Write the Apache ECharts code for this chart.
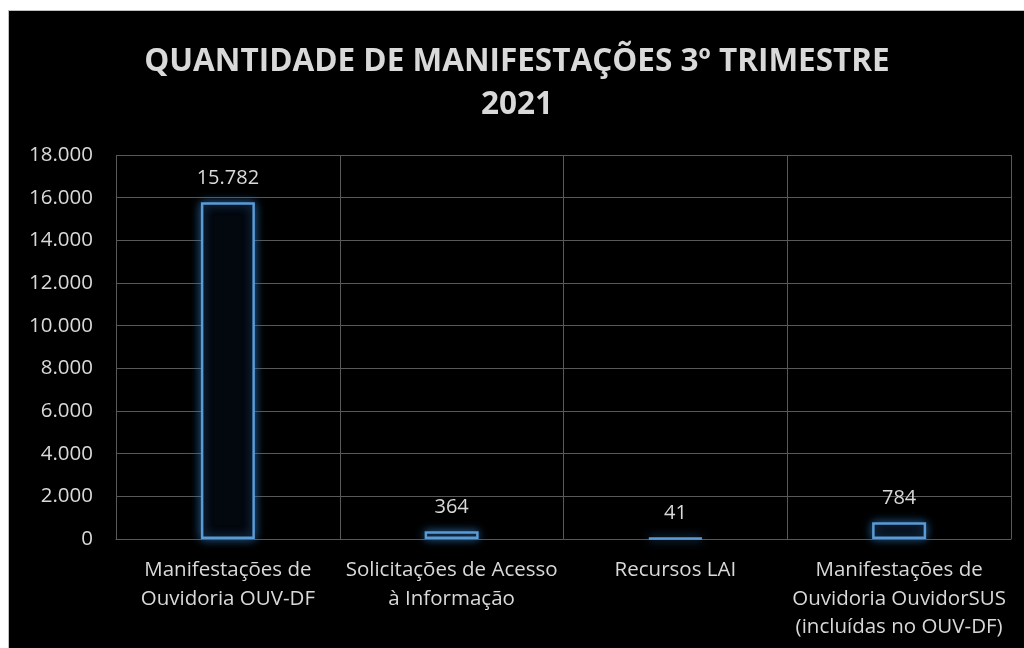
<!DOCTYPE html>
<html>
<head>
<meta charset="utf-8">
<script src="https://cdn.jsdelivr.net/npm/echarts@6/dist/echarts.min.js"></script>
<style>
html,body{margin:0;padding:0;background:#fff;width:1024px;height:648px;overflow:hidden;}
#frame{position:absolute;left:8px;top:10px;width:1016px;height:638px;border-left:1px solid #bfbfbf;border-top:1px solid #bfbfbf;background:#000;}
#chart{position:absolute;left:0;top:0;width:1016px;height:638px;}
</style>
</head>
<body>
<div id="frame"><div id="chart"></div></div>
<script>
const titleText = 'QUANTIDADE DE MANIFESTAÇÕES 3º TRIMESTRE\n2021';
const categories = [
  'Manifestações de\nOuvidoria OUV-DF',
  'Solicitações de Acesso\nà Informação',
  'Recursos LAI',
  'Manifestações de\nOuvidoria OuvidorSUS\n(incluídas no OUV-DF)'
];
const values = [15782, 364, 41, 784];
const yMin = 0, yMax = 18000, yInterval = 2000;

const fmt = v => String(v).replace(/\B(?=(\d{3})+(?!\d))/g, '.');
const FONT = '"Open Sans", Lato, sans-serif';
const chart = echarts.init(document.getElementById('chart'));
chart.setOption({
  backgroundColor: '#000',
  animation: false,
  title: {
    text: titleText,
    left: 'center', top: 25,
    textStyle: {color: '#d9d9d9', fontSize: 31.5, fontWeight: 'bold', fontFamily: FONT, lineHeight: 43}
  },
  grid: {left: 107, right: 14, top: 144, bottom: 110},
  xAxis: {
    type: 'category', data: categories,
    axisLine: {show: true, lineStyle: {color: '#595959', width: 1}},
    axisTick: {show: false},
    splitLine: {show: true, interval: 0, lineStyle: {color: '#595959', width: 1}},
    axisLabel: {color: '#d9d9d9', fontSize: 20.5, fontFamily: FONT, lineHeight: 28.5, margin: 17, interval: 0}
  },
  yAxis: {
    type: 'value', min: yMin, max: yMax, interval: yInterval,
    axisLine: {show: false}, axisTick: {show: false},
    splitLine: {show: true, lineStyle: {color: '#595959', width: 1}},
    axisLabel: {color: '#d9d9d9', fontSize: 20.5, fontFamily: FONT, margin: 23, formatter: v => fmt(v)}
  },
  series: [{
    type: 'bar', data: values, barWidth: 54,
    itemStyle: {color: '#03070e', borderColor: '#5b9bd5', borderWidth: 2.5, shadowBlur: 10, shadowColor: 'rgba(46,117,182,0.8)'},
    label: {show: true, position: 'top', distance: 14, color: '#d9d9d9', fontSize: 20, fontFamily: FONT, formatter: p => fmt(p.value)}
  }]
});
</script>
</body>
</html>
